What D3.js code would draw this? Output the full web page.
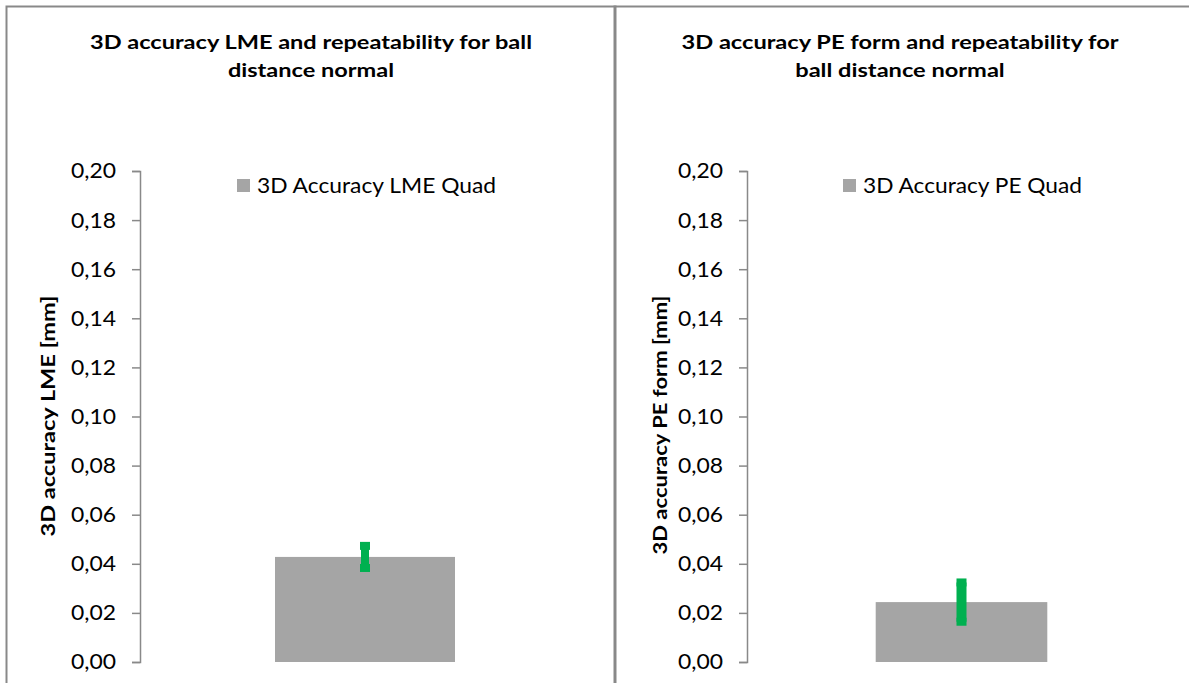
<!DOCTYPE html>
<html>
<head>
<meta charset="utf-8">
<script src="https://cdn.jsdelivr.net/npm/d3@7"></script>
<style>
  html, body { margin: 0; padding: 0; background: #fff; }
  svg { display: block; }
  text { font-family: Lato, "Open Sans", "Liberation Sans", sans-serif; fill: #000; }
</style>
</head>
<body>
<svg id="chart" width="1189" height="683"></svg>
<script>
// Chart data
const categories = ["Quad"];
const yTicks = [0, 0.02, 0.04, 0.06, 0.08, 0.10, 0.12, 0.14, 0.16, 0.18, 0.20];

const lmeValues = [0.0428];   // 3D Accuracy LME Quad
const lmeRepeat = [0.0045];   // repeatability (± error)
const peValues = [0.0244];    // 3D Accuracy PE Quad
const peRepeat = [0.0080];    // repeatability (± error)

const panels = [
  {
    box: { x: 6, y: 6, w: 609, h: 700 },
    title: ["3D accuracy LME and repeatability for ball", "distance normal"],
    titleX: 311, titleW: 442,
    yTitle: "3D accuracy LME [mm]", yTitleX: 48, yTitleY: 416, yTitleW: 241,
    legend: "3D Accuracy LME Quad", legendX: 237, legendW: 239,
    plot: { left: 140, right: 590 },
    values: lmeValues, errors: lmeRepeat, stemW: 8
  },
  {
    box: { x: 614, y: 6, w: 600, h: 700 },
    title: ["3D accuracy PE form and repeatability for", "ball distance normal"],
    titleX: 900, titleW: 437,
    yTitle: "3D accuracy PE form [mm]", yTitleX: 660, yTitleY: 425, yTitleW: 259,
    legend: "3D Accuracy PE Quad", legendX: 843, legendW: 219,
    plot: { left: 747, right: 1176 },
    values: peValues, errors: peRepeat, stemW: 10
  }
];

const svg = d3.select("#chart");
const plotTop = 171, plotBottom = 662;
const barColor = "#a5a5a5", errColor = "#00b050", lineColor = "#898989";

const y = d3.scaleLinear().domain([0, 0.20]).range([plotBottom, plotTop]);
const fmt = v => d3.format(".2f")(v).replace(".", ",");

// stretch text horizontally to a given width, returning the ratio used
function fitWidth(sel, w) {
  const n = sel.node().getComputedTextLength();
  sel.attr("textLength", w).attr("lengthAdjust", "spacingAndGlyphs");
  return w / n;
}
function stretch(sel, k) {
  sel.each(function () {
    const n = this.getComputedTextLength();
    d3.select(this).attr("textLength", n * k).attr("lengthAdjust", "spacingAndGlyphs");
  });
}

panels.forEach(p => {
  const g = svg.append("g");

  // chart area frame
  g.append("rect")
    .attr("x", p.box.x + 0.5).attr("y", p.box.y + 0.5)
    .attr("width", p.box.w).attr("height", p.box.h)
    .attr("fill", "none").attr("stroke", lineColor).attr("stroke-width", 2);

  // title (two lines, bold)
  const t1 = g.append("text").attr("x", p.titleX).attr("y", 49)
    .attr("text-anchor", "middle").attr("font-weight", 700).attr("font-size", 19.5)
    .text(p.title[0]);
  const k = fitWidth(t1, p.titleW);
  const t2 = g.append("text").attr("x", p.titleX).attr("y", 77)
    .attr("text-anchor", "middle").attr("font-weight", 700).attr("font-size", 19.5)
    .text(p.title[1]);
  stretch(t2, k);

  // y axis
  const axis = d3.axisLeft(y).tickValues(yTicks).tickFormat(fmt)
    .tickSizeInner(8).tickSizeOuter(8).tickPadding(16);
  const ag = g.append("g").attr("transform", `translate(${p.plot.left},0)`).call(axis);
  ag.select(".domain").attr("stroke", lineColor).attr("stroke-width", 1.5);
  ag.selectAll(".tick line").attr("stroke", lineColor).attr("stroke-width", 1.5);
  ag.selectAll(".tick text")
    .attr("font-size", 20.5).attr("font-family", null).attr("fill", "#000")
    .attr("dy", "0.34em")
    .attr("textLength", 45).attr("lengthAdjust", "spacingAndGlyphs");

  // y axis title
  const yt = g.append("text")
    .attr("transform", `translate(${p.yTitleX},${p.yTitleY}) rotate(-90)`)
    .attr("text-anchor", "middle").attr("dy", "0.35em")
    .attr("font-weight", 700).attr("font-size", 19.5)
    .text(p.yTitle);
  fitWidth(yt, p.yTitleW);

  // bars
  const x = d3.scaleBand().domain(categories)
    .range([p.plot.left, p.plot.right]).paddingInner(0.6).paddingOuter(0.3);

  g.selectAll("rect.bar").data(categories).join("rect").attr("class", "bar")
    .attr("x", d => x(d)).attr("width", x.bandwidth())
    .attr("y", (d, i) => y(p.values[i]))
    .attr("height", (d, i) => y(0) - y(p.values[i]))
    .attr("fill", barColor);

  // error bars (repeatability)
  const capW = 10, capH = 8;
  categories.forEach((c, i) => {
    const cx = x(c) + x.bandwidth() / 2;
    const hi = y(p.values[i] + p.errors[i]);
    const lo = y(p.values[i] - p.errors[i]);
    g.append("rect").attr("x", cx - p.stemW / 2).attr("width", p.stemW)
      .attr("y", hi).attr("height", lo - hi).attr("fill", errColor);
    [hi, lo].forEach(yy => {
      g.append("rect").attr("x", cx - capW / 2).attr("width", capW)
        .attr("y", yy - capH / 2).attr("height", capH).attr("fill", errColor);
    });
  });

  // legend
  g.append("rect").attr("x", p.legendX).attr("y", 179)
    .attr("width", 13).attr("height", 13).attr("fill", barColor);
  const lt = g.append("text").attr("x", p.legendX + 20).attr("y", 186)
    .attr("dy", "0.35em").attr("font-size", 20.5).text(p.legend);
  fitWidth(lt, p.legendW);
});
</script>
</body>
</html>
